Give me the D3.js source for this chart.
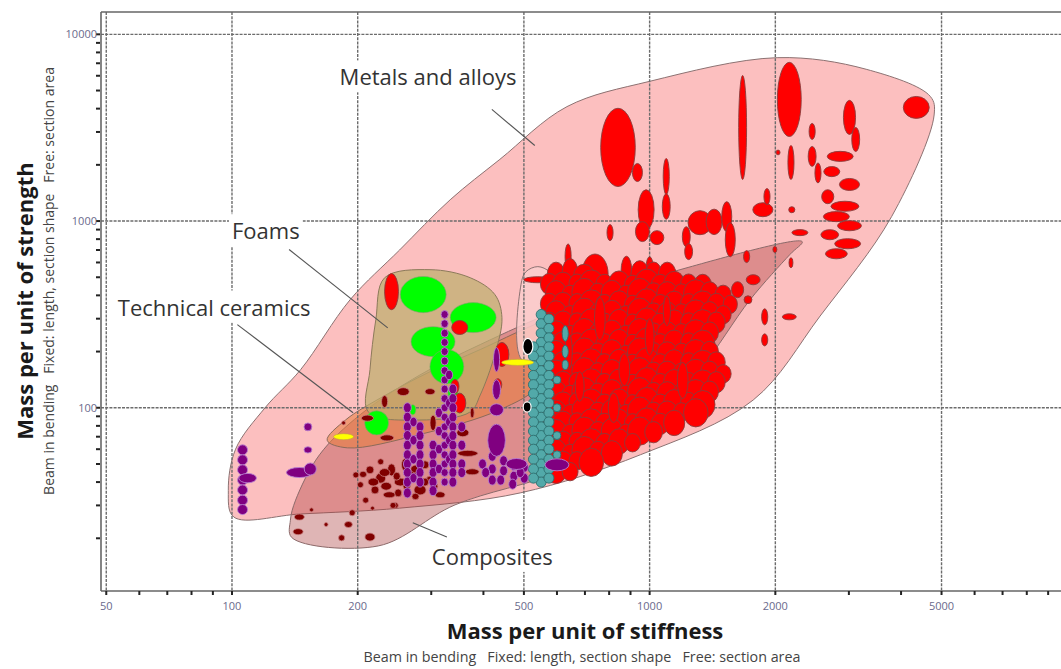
<!DOCTYPE html>
<html><head><meta charset="utf-8">
<script src="https://cdn.jsdelivr.net/npm/d3@7"></script>
<style>
body{margin:0;background:#fff}
svg{display:block}
text{font-family:"Open Sans","Noto Sans",sans-serif}
</style>
</head><body>
<svg id="c" width="1061" height="669"></svg>
<script>
// ---------- axes ----------
const xTickValues = [50, 100, 200, 500, 1000, 2000, 5000];
const xTickLabels = ["50", "100", "200", "500", "1000", "2000", "5000"];
const yTickValues = [100, 1000, 10000];
const yTickLabels = ["100", "1000", "10000"];
const xMinor = [60,70,80,90,300,400,600,700,800,900,3000,4000,6000,7000,8000,9000];
const yMinor = [20,30,40,50,60,70,80,90,200,300,400,500,600,700,800,900,2000,3000,4000,5000,6000,7000,8000,9000];
const xDomain = [48.57, 9661];
const yDomain = [10.44, 13170];

// ---------- envelopes (property-space outlines) ----------
const metalsEnv = [[101,26],[98,36],[102,60],[120,100],[146,160],[192,380],[252,700],[333,1300],[438,2140],[634,4100],[1000,5600],[2020,7500],[3300,6500],[4700,4650],[4800,3700],[3800,1060],[2560,310],[1770,110],[950,56],[490,35],[252,29],[146,27]];
const compositesEnv = [[2320,775],[1183,549],[610,336],[393,218],[282,150],[203,92],[162,56],[142,32],[138,25],[139,20.2],[224,18.2],[342,30.2],[610,45.4],[952,76],[1320,160],[1740,379],[2170,664]];
const ceramicsEnv = [[169,67],[187,86],[227,113],[298,156],[393,205],[517,272],[576,296],[616,255],[546,133],[438,97.6],[282,72],[189,61]];
const foamsEnv = [[232,497],[298,549],[372,497],[426,404],[443,304],[426,193],[393,117],[372,95],[282,86],[212,95],[214,160],[221,296]];
const naturalEnv = [[495,180],[492,456],[505,534],[540,570],[576,534],[595,456],[595,180]];

// ---------- material bubbles: [x, y, x-spread, y-spread] ----------
const greenFoams = [[287,404,1.135,1.25],[378,304,1.135,1.203],[303,226,1.129,1.203],[327,166,1.098,1.234],[222,83,1.068,1.16],[338,120,1.028,1.077],[271,97.6,1.017,1.064]];
const maroonCeramics = [[257,122,1.034,1.05],[232,108,1.017,1.077],[298,122,1.028,1.038],[211,88,1.034,1.038],[235,69,1.039,1.038],[357,73.5,1.034,1.05],[376,94,1.011,1.064],[185,83,1.011,1.025],[367,57,1.057,1.038],[376,45.4,1.039,1.038],[303,83,1.017,1.1],
 [214,46.5,1.022,1.05],[227,42,1.028,1.064],[241,46.5,1.022,1.077],[253,40,1.034,1.05],[270,43.7,1.028,1.064],[282,36.3,1.034,1.064],[298,41,1.022,1.05],[220,36.3,1.022,1.05],[238,34.2,1.034,1.038],[203,38.7,1.017,1.038],[259,49.5,1.017,1.077],[227,51.4,1.017,1.038],[198,43.7,1.017,1.038],[290,49.5,1.022,1.05],[315,34.2,1.028,1.038],[209,32,1.017,1.038],[246,30,1.017,1.038],
 [232,45,1.03,1.05],[248,43,1.02,1.05],[262,38,1.02,1.04],[276,47,1.03,1.05],[290,40,1.02,1.05],[206,44,1.02,1.04],[218,40,1.03,1.05],[234,38,1.03,1.05],[250,35,1.02,1.05],[275,33.5,1.02,1.04],[305,38,1.02,1.04],
 [145,26,1.028,1.038],[144,21.7,1.028,1.038],[194,27.4,1.017,1.038],[190,23.7,1.022,1.038],[183,20.1,1.017,1.038],[214,20.3,1.028,1.05],[217,29,1.011,1.025],[243,30,1.017,1.038],[168,23.7,1.011,1.025],[155,28.4,1.011,1.025]];
const redMetals = [[840,2480,1.10,1.62],[935,1820,1.028,1.118],[1670,3170,1.022,1.9],[2160,4480,1.068,1.58],[4350,4060,1.074,1.145],[3010,3590,1.034,1.234],[2450,3020,1.017,1.104],[2450,2220,1.022,1.131],[2180,2060,1.017,1.234],[2030,2330,1.011,1.03],[2190,1150,1.017,1.038],
 [2860,2220,1.074,1.064],[2730,1840,1.045,1.064],[3010,1570,1.057,1.077],[2670,1350,1.034,1.09],[2935,1200,1.08,1.064],[2800,1056,1.074,1.064],[3010,944,1.068,1.064],[2700,845,1.05,1.064],[2980,756,1.074,1.064],[2800,668,1.062,1.064],[2530,1810,1.017,1.131],[3115,2735,1.022,1.16],
 [2290,867,1.045,1.038],[2160,307,1.039,1.038],[1886,307,1.017,1.104],[1886,231,1.017,1.077],[1995,704,1.011,1.038],[2180,598,1.011,1.064],
 [1320,980,1.068,1.16],[1427,990,1.045,1.17],[1530,1056,1.028,1.203],[1560,794,1.028,1.234],[1867,1150,1.057,1.09],[1910,1352,1.017,1.104],[981,1150,1.045,1.28],[1096,1732,1.017,1.25],[1096,1196,1.022,1.17],[961,878,1.039,1.131],[1041,815,1.039,1.09],[804,867,1.017,1.104],[1224,825,1.022,1.131],[1240,686,1.022,1.104],[638,645,1.017,1.17],[1707,645,1.017,1.077],[1770,485,1.039,1.064],[1720,379,1.022,1.05],[1624,429,1.034,1.104],
 [241,419,1.039,1.25],[351,269,1.045,1.09],[342,130,1.022,1.09],[351,106,1.034,1.13],[443,193,1.039,1.16],[433,133,1.022,1.077],[540,485,1.08,1.038],
 [740,520,1.075,1.28],[880,540,1.03,1.2],[1000,560,1.02,1.15],[620,485,1.045,1.13],[912,394,1.039,1.234],[950,120,1.045,1.17],
 [597,515,1.05,1.17],[645,525,1.045,1.2],[697,510,1.06,1.15],[947,520,1.05,1.18],[1022,525,1.045,1.15],[1102,515,1.05,1.17],
 [575,460,1.05,1.14],[620,455,1.06,1.17],[670,465,1.045,1.12],[725,460,1.07,1.19],[780,455,1.05,1.14],[845,462,1.06,1.17],[910,458,1.045,1.12],[985,465,1.07,1.19],[1060,455,1.05,1.14],[1145,460,1.06,1.17],[1240,465,1.045,1.12],[1340,455,1.05,1.14],
 [597,410,1.06,1.17],[645,405,1.045,1.12],[697,415,1.07,1.19],[752,408,1.05,1.14],[812,412,1.06,1.17],[877,405,1.045,1.12],[947,415,1.07,1.19],[1022,410,1.05,1.14],[1102,405,1.06,1.17],[1192,412,1.045,1.12],[1290,408,1.07,1.19],[1392,415,1.05,1.14],[1500,405,1.045,1.12],
 [575,360,1.05,1.14],[620,355,1.06,1.17],[670,365,1.045,1.12],[725,360,1.07,1.19],[780,355,1.05,1.14],[845,362,1.06,1.17],[910,358,1.045,1.12],[985,365,1.07,1.19],[1060,355,1.05,1.14],[1145,360,1.06,1.17],[1240,365,1.045,1.12],[1340,355,1.07,1.19],[1445,360,1.05,1.14],[1560,358,1.04,1.12],
 [597,320,1.06,1.17],[645,315,1.045,1.12],[697,325,1.07,1.19],[752,318,1.05,1.14],[812,322,1.06,1.17],[877,315,1.045,1.12],[947,325,1.07,1.19],[1022,320,1.05,1.14],[1102,315,1.06,1.17],[1192,322,1.045,1.12],[1290,318,1.07,1.19],[1392,325,1.05,1.14],[1500,315,1.045,1.12],
 [575,285,1.05,1.14],[620,282,1.06,1.17],[670,288,1.045,1.12],[725,285,1.07,1.19],[780,282,1.05,1.14],[845,288,1.06,1.17],[910,284,1.045,1.12],[985,288,1.07,1.19],[1060,282,1.05,1.14],[1145,286,1.06,1.17],[1240,288,1.045,1.12],[1340,282,1.07,1.19],[1445,286,1.05,1.14],
 [597,250,1.06,1.17],[645,247,1.045,1.12],[697,253,1.07,1.19],[752,249,1.05,1.14],[812,252,1.06,1.17],[877,247,1.045,1.12],[947,253,1.07,1.19],[1022,250,1.05,1.14],[1102,247,1.06,1.17],[1192,252,1.045,1.12],[1290,249,1.07,1.19],[1392,253,1.05,1.14],
 [575,222,1.05,1.14],[620,219,1.06,1.17],[670,225,1.045,1.12],[725,222,1.07,1.19],[780,219,1.05,1.14],[845,225,1.06,1.17],[910,221,1.045,1.12],[985,225,1.07,1.19],[1060,219,1.05,1.14],[1145,223,1.06,1.17],[1240,225,1.045,1.12],[1340,219,1.07,1.19],
 [597,196,1.06,1.17],[645,193,1.045,1.12],[697,199,1.07,1.19],[752,195,1.05,1.14],[812,198,1.06,1.17],[877,193,1.045,1.12],[947,199,1.07,1.19],[1022,196,1.05,1.14],[1102,193,1.06,1.17],[1192,198,1.045,1.12],[1290,195,1.07,1.19],[1392,199,1.05,1.14],
 [575,174,1.05,1.14],[620,171,1.06,1.17],[670,176,1.045,1.12],[725,174,1.07,1.19],[780,171,1.05,1.14],[845,176,1.06,1.17],[910,173,1.045,1.12],[985,176,1.07,1.19],[1060,171,1.05,1.14],[1145,175,1.06,1.17],[1240,176,1.045,1.12],[1340,171,1.07,1.19],[1445,175,1.05,1.14],
 [597,154,1.06,1.17],[645,152,1.045,1.12],[697,156,1.07,1.19],[752,153,1.05,1.14],[812,155,1.06,1.17],[877,152,1.045,1.12],[947,156,1.07,1.19],[1022,154,1.05,1.14],[1102,152,1.06,1.17],[1192,155,1.045,1.12],[1290,153,1.07,1.19],[1392,156,1.05,1.14],[1500,152,1.045,1.12],
 [575,136,1.05,1.14],[620,134,1.06,1.17],[670,138,1.045,1.12],[725,136,1.07,1.19],[780,134,1.05,1.14],[845,138,1.06,1.17],[910,135,1.045,1.12],[985,138,1.07,1.19],[1060,134,1.05,1.14],[1145,137,1.06,1.17],[1240,138,1.045,1.12],[1340,134,1.07,1.19],[1445,137,1.05,1.14],
 [597,120,1.06,1.17],[645,118,1.045,1.12],[697,122,1.07,1.19],[752,119,1.05,1.14],[812,121,1.06,1.17],[877,118,1.045,1.12],[947,122,1.07,1.19],[1022,120,1.05,1.14],[1102,118,1.06,1.17],[1192,121,1.045,1.12],[1290,119,1.07,1.19],[1392,122,1.05,1.14],
 [575,106,1.05,1.14],[620,104,1.06,1.17],[670,108,1.045,1.12],[725,106,1.07,1.19],[780,104,1.05,1.14],[845,108,1.06,1.17],[910,105,1.045,1.12],[985,108,1.07,1.19],[1060,104,1.05,1.14],[1145,107,1.06,1.17],[1240,108,1.045,1.12],[1340,104,1.07,1.19],
 [597,94,1.06,1.17],[645,93,1.045,1.12],[697,96,1.07,1.19],[752,94,1.05,1.14],[812,95,1.06,1.17],[877,93,1.045,1.12],[947,96,1.07,1.19],[1022,94,1.05,1.14],[1102,93,1.06,1.17],[1192,95,1.045,1.12],[1290,94,1.07,1.19],
 [575,83,1.05,1.14],[620,82,1.06,1.17],[670,84,1.045,1.12],[725,83,1.07,1.19],[780,82,1.05,1.14],[845,84,1.06,1.17],[910,83,1.045,1.12],[985,84,1.07,1.19],[1060,82,1.05,1.14],[1145,83,1.06,1.17],
 [597,74,1.06,1.17],[645,73,1.045,1.12],[697,75,1.07,1.19],[752,74,1.05,1.14],[812,75,1.06,1.17],[877,73,1.045,1.12],[947,75,1.07,1.19],[1022,74,1.05,1.14],
 [575,65,1.05,1.14],[620,64,1.06,1.17],[670,66,1.045,1.12],[725,65,1.07,1.19],[780,64,1.05,1.14],[845,66,1.06,1.17],[910,65,1.045,1.12],
 [597,58,1.06,1.17],[645,57,1.045,1.12],[697,59,1.07,1.19],[752,58,1.05,1.14],[812,57,1.06,1.17],
 [575,51,1.05,1.14],[620,50,1.06,1.17],[670,52,1.045,1.12],[725,51,1.07,1.19],
 [597,46,1.06,1.17],[645,45.5,1.045,1.12],
 [760,300,1.03,1.3],[1000,240,1.025,1.25],[870,160,1.03,1.22],[1200,140,1.03,1.25],[680,130,1.025,1.2],[1100,330,1.02,1.2],[820,100,1.03,1.2],[640,200,1.02,1.25]];
const tealPolymers = [
 [550,316,1.028,1.064],[550,282,1.028,1.064],[550,251,1.028,1.064],[550,224,1.028,1.064],[550,200,1.028,1.064],[550,178,1.028,1.064],[550,158,1.028,1.064],[550,141,1.028,1.064],[550,126,1.028,1.064],[550,112,1.028,1.064],[550,100,1.028,1.064],[550,89,1.028,1.064],[550,79,1.028,1.064],[550,71,1.028,1.064],[550,63,1.028,1.064],[550,56,1.028,1.064],[550,50,1.028,1.064],[550,45,1.028,1.064],[550,40,1.028,1.064],
 [527,212,1.028,1.064],[527,189,1.028,1.064],[527,168,1.028,1.064],[527,149,1.028,1.064],[527,133,1.028,1.064],[527,119,1.028,1.064],[527,106,1.028,1.064],[527,94,1.028,1.064],[527,84,1.028,1.064],[527,75,1.028,1.064],[527,67,1.028,1.064],[527,60,1.028,1.064],[527,53,1.028,1.064],[527,47,1.028,1.064],[527,42,1.028,1.064],
 [574,299,1.028,1.064],[574,266,1.028,1.064],[574,237,1.028,1.064],[574,212,1.028,1.064],[574,189,1.028,1.064],[574,168,1.028,1.064],[574,149,1.028,1.064],[574,133,1.028,1.064],[574,119,1.028,1.064],[574,106,1.028,1.064],[574,94,1.028,1.064],[574,84,1.028,1.064],[574,75,1.028,1.064],[574,67,1.028,1.064],[574,60,1.028,1.064],[574,53,1.028,1.064],[574,47,1.028,1.064],[574,42,1.028,1.064],
 [600,141,1.022,1.05],[600,100,1.022,1.05],[600,71,1.022,1.05],[600,56,1.022,1.05],[628,250,1.017,1.1],[628,200,1.017,1.08],[628,170,1.017,1.06]];
const purpleElastomers = [
 [106,59.5,1.028,1.064],[106,52.6,1.028,1.064],[106,46.5,1.028,1.064],[106,41,1.028,1.064],[106,36.3,1.028,1.064],[106,32,1.028,1.064],[106,28.5,1.028,1.064],[109,42,1.05,1.06],
 [145,45,1.074,1.064],[154,47,1.034,1.077],[152,79,1.022,1.05],[152,59.5,1.022,1.04],
 [263,100,1.022,1.064],[263,89,1.022,1.064],[263,79,1.022,1.064],[263,71,1.022,1.064],[263,63,1.022,1.064],[263,56,1.022,1.064],[263,50,1.022,1.064],[263,45,1.022,1.064],[263,40,1.022,1.064],[263,35,1.022,1.064],
 [272,84,1.02,1.06],[272,67,1.02,1.06],[272,53,1.02,1.06],[272,42,1.02,1.06],
 [282,79,1.022,1.064],[282,71,1.022,1.064],[282,63,1.022,1.064],[282,56,1.022,1.064],[282,50,1.022,1.064],[282,45,1.022,1.064],[282,40,1.022,1.064],
 [303,63,1.022,1.064],[303,56,1.022,1.064],[303,50,1.022,1.064],[303,45,1.022,1.064],[303,40,1.022,1.064],[303,36,1.022,1.064],
 [313,94,1.02,1.06],[313,75,1.02,1.06],[313,60,1.02,1.06],[313,47,1.02,1.06],
 [323,316,1.02,1.05],[323,282,1.02,1.05],[323,251,1.02,1.05],[323,224,1.02,1.05],[323,200,1.02,1.05],[323,178,1.02,1.05],[323,158,1.02,1.05],[323,141,1.02,1.05],[323,126,1.02,1.05],[323,112,1.02,1.05],[323,100,1.02,1.05],[323,89,1.02,1.05],[323,79,1.02,1.05],[323,71,1.02,1.05],[323,63,1.02,1.05],[323,56,1.02,1.05],[323,50,1.02,1.05],[323,45,1.02,1.05],[323,40,1.02,1.05],
 [331,150,1.02,1.06],[331,106,1.02,1.06],[331,84,1.02,1.06],[331,67,1.02,1.06],[331,53,1.02,1.06],
 [338,126,1.022,1.064],[338,112,1.022,1.064],[338,100,1.022,1.064],[338,89,1.022,1.064],[338,79,1.022,1.064],[338,71,1.022,1.064],[338,63,1.022,1.064],[338,56,1.022,1.064],[338,50,1.022,1.064],[338,45,1.022,1.064],[338,40,1.022,1.064],
 [355,79,1.022,1.064],[355,63,1.022,1.064],[355,50,1.022,1.064],[355,45,1.022,1.064],
 [398,50,1.022,1.064],[420,47,1.022,1.064],[420,55,1.022,1.064],[447,46,1.022,1.064],[447,52,1.022,1.064],[473,49,1.022,1.064],[473,43,1.022,1.064],[501,48,1.022,1.064],[501,42,1.022,1.064],[440,41,1.022,1.064],[470,39,1.022,1.064],[420,41,1.022,1.064],[405,45,1.022,1.064],[490,45,1.022,1.064],[480,50,1.06,1.07],[600,49.5,1.068,1.077],
 [430,181,1.017,1.16],[430,125,1.022,1.13],[430,97.6,1.039,1.077],[430,67,1.05,1.22]];
const yellowGlasses = [[185,70,1.057,1.038],[483,175,1.092,1.038]];
const blackOther = [[511,213,1.028,1.104],[509,101,1.022,1.064]];

// ---------- annotations ----------
const labelNames = ["Metals and alloys", "Foams", "Technical ceramics", "Composites"];
const labelAnchors = [[181,5330],[100,800],[53.3,312],[301,14.4]];
const leaderFrom = [[419,3960],[137,704],[103,279],[327,20.3]];
const leaderTo = [[531,2540],[236,268],[195,94],[271,24.2]];

const svg = d3.select("#c");
const x = d3.scaleLog().domain(xDomain).range([101, 1061]);
const y = d3.scaleLog().domain(yDomain).range([591, 12]);

const line = d3.line().x(d => x(d[0])).y(d => y(d[1])).curve(d3.curveCatmullRomClosed.alpha(0.5));

const gEnv = svg.append("g");
function env(pts, fill, stroke) {
  gEnv.append("path").attr("d", line(pts)).attr("fill", fill).attr("stroke", stroke).attr("stroke-width", 1);
}
env(metalsEnv, "#fcbfbf", "#8c7272");
env(compositesEnv, "rgba(170,60,60,0.38)", "#8c6a6a");
env(ceramicsEnv, "rgba(232,125,60,0.55)", "#8c6a5a");
env(foamsEnv, "rgba(190,175,110,0.72)", "#8c7a5a");
env(naturalEnv, "rgba(250,205,205,0.85)", "#8c7272");

// grid
const grid = svg.append("g").attr("stroke", "#6c6c6c").attr("stroke-width", 1.4).attr("stroke-dasharray", "3,1.2").attr("fill", "none");
xTickValues.forEach(v => grid.append("line").attr("x1", x(v)).attr("x2", x(v)).attr("y1", 12).attr("y2", 591));
yTickValues.forEach(v => grid.append("line").attr("x1", 101).attr("x2", 1061).attr("y1", y(v)).attr("y2", y(v)));

// bubbles
function bubbles(data, fill, stroke, sw) {
  const g = svg.append("g");
  g.selectAll("ellipse").data(data).join("ellipse")
    .attr("cx", d => x(d[0])).attr("cy", d => y(d[1]))
    .attr("rx", d => Math.max(1, (x(d[0] * d[2]) - x(d[0] / d[2])) / 2))
    .attr("ry", d => Math.max(1, (y(d[1] / d[3]) - y(d[1] * d[3])) / 2))
    .attr("fill", fill).attr("stroke", stroke).attr("stroke-width", sw);
}
bubbles(greenFoams, "#00ff00", "#86a070", 0.6);
bubbles(maroonCeramics, "#800000", "#c98080", 0.8);
bubbles(redMetals, "#ff0000", "#8a3c3c", 0.9);
bubbles(tealPolymers, "#52a9a9", "#2c7070", 0.9);
bubbles(purpleElastomers, "#800080", "#b880d0", 0.9);
bubbles(yellowGlasses, "#ffff00", "#c0a040", 0.6);
bubbles(blackOther, "#000000", "#ffffff", 1.2);

// leaders
const gl = svg.append("g").attr("stroke", "#555").attr("stroke-width", 1.1);
leaderFrom.forEach((f, i) => gl.append("line").attr("x1", x(f[0])).attr("y1", y(f[1])).attr("x2", x(leaderTo[i][0])).attr("y2", y(leaderTo[i][1])));

// labels
labelNames.forEach((t, i) => {
  const g = svg.append("g");
  const tx = g.append("text").attr("x", x(labelAnchors[i][0])).attr("y", y(labelAnchors[i][1]))
    .attr("font-size", 22).attr("fill", "#333").text(t);
  const b = tx.node().getBBox();
  g.insert("rect", "text").attr("x", b.x - 3).attr("y", b.y - 1).attr("width", b.width + 6).attr("height", b.height + 2).attr("fill", "#fff");
});

// axes
const ax = svg.append("g").attr("stroke", "#666").attr("stroke-width", 1.6);
ax.append("line").attr("x1", 101).attr("x2", 101).attr("y1", 12).attr("y2", 591);
ax.append("line").attr("x1", 101).attr("x2", 1061).attr("y1", 591).attr("y2", 591);
ax.append("line").attr("x1", 101).attr("x2", 1061).attr("y1", 12).attr("y2", 12);
const mt = svg.append("g").attr("stroke", "#222").attr("stroke-width", 2);
xMinor.concat(xTickValues).forEach(v => mt.append("line").attr("x1", x(v)).attr("x2", x(v)).attr("y1", 591).attr("y2", 595));
yMinor.concat(yTickValues).forEach(v => mt.append("line").attr("x1", 96).attr("x2", 100).attr("y1", y(v)).attr("y2", y(v)));

const tl = svg.append("g").attr("font-size", 11).attr("fill", "#6a6a8c");
xTickValues.forEach((v, i) => tl.append("text").attr("x", x(v)).attr("y", 610).attr("text-anchor", "middle").text(xTickLabels[i]));
yTickValues.forEach((v, i) => tl.append("text").attr("x", 97).attr("y", y(v) + 4).attr("text-anchor", "end").text(yTickLabels[i]));

svg.append("text").attr("x", 585).attr("y", 639).attr("text-anchor", "middle").attr("font-size", 22).attr("font-weight", "bold").attr("fill", "#1a1a1a").text("Mass per unit of stiffness");
svg.append("text").attr("x", 582).attr("y", 662).attr("text-anchor", "middle").attr("font-size", 14.3).attr("fill", "#444").style("white-space", "pre")
  .text("Beam in bending   Fixed: length, section shape   Free: section area");
svg.append("text").attr("transform", "translate(33,301) rotate(-90)").attr("text-anchor", "middle").attr("font-size", 22).attr("font-weight", "bold").attr("fill", "#1a1a1a").text("Mass per unit of strength");
svg.append("text").attr("transform", "translate(54,281) rotate(-90)").attr("text-anchor", "middle").attr("font-size", 14).attr("fill", "#444").style("white-space", "pre")
  .text("Beam in bending   Fixed: length, section shape   Free: section area");
</script>
</body></html>
